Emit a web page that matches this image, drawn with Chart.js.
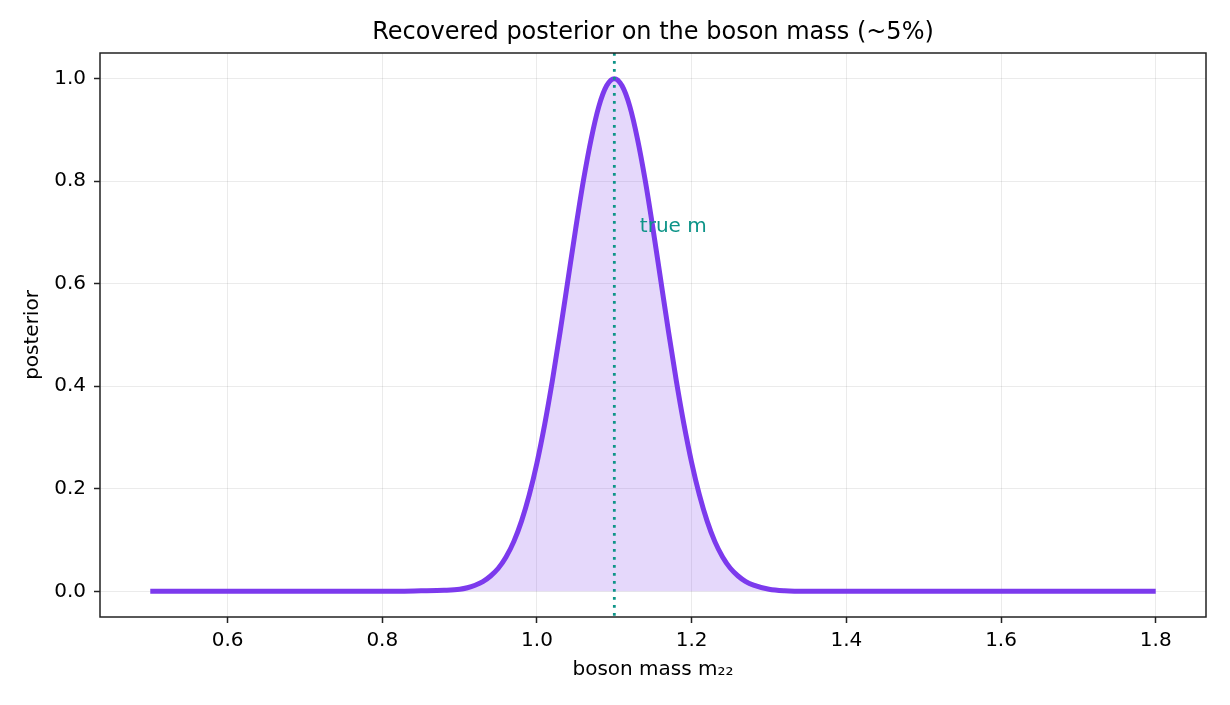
<!DOCTYPE html>
<html>
<head>
<meta charset="utf-8">
<script src="https://cdn.jsdelivr.net/npm/chart.js@4.4.1/dist/chart.umd.min.js"></script>
<style>
  html, body { margin: 0; padding: 0; background: #fff; }
  #wrap { width: 1230px; height: 705px; }
</style>
</head>
<body>
<div id="wrap"><canvas id="postChart" width="1230" height="705"></canvas></div>
<script>
// boson mass grid (m22) and posterior
const massGrid = [
  0.50, 0.60, 0.70, 0.80, 0.85, 0.88, 0.90, 0.91, 0.92, 0.93, 0.94, 0.95,
  0.96, 0.97, 0.98, 0.99, 1.00, 1.01, 1.02, 1.03, 1.04, 1.05, 1.06, 1.07,
  1.08, 1.09, 1.10, 1.11, 1.12, 1.13, 1.14, 1.15, 1.16, 1.17, 1.18, 1.19,
  1.20, 1.21, 1.22, 1.23, 1.24, 1.25, 1.26, 1.27, 1.28, 1.30, 1.32, 1.35,
  1.40, 1.50, 1.60, 1.70, 1.80
];
const posterior = [
  0.000, 0.000, 0.000, 0.000, 0.001, 0.002, 0.004, 0.007, 0.012, 0.019, 0.030, 0.045,
  0.067, 0.097, 0.137, 0.188, 0.251, 0.326, 0.412, 0.507, 0.607, 0.707, 0.801, 0.882,
  0.946, 0.986, 1.000, 0.986, 0.946, 0.882, 0.801, 0.707, 0.607, 0.507, 0.412, 0.326,
  0.251, 0.188, 0.137, 0.097, 0.067, 0.045, 0.030, 0.019, 0.012, 0.004, 0.001, 0.000,
  0.000, 0.000, 0.000, 0.000, 0.000
];
const trueMass = 1.10;
const trueLabel = "true m";
const chartTitle = "Recovered posterior on the boson mass (~5%)";
const xTicks = [0.6, 0.8, 1.0, 1.2, 1.4, 1.6, 1.8];
const yTicks = [0.0, 0.2, 0.4, 0.6, 0.8, 1.0];

const FONT = "'DejaVu Sans', sans-serif";
const PURPLE = "#7c3aed";
const TEAL = "#0d9488";

const framePlugin = {
  id: "frame",
  afterDatasetsDraw(chart) {
    const { ctx, chartArea: a, scales } = chart;
    // true-mass marker
    const xp = scales.x.getPixelForValue(trueMass);
    ctx.save();
    ctx.strokeStyle = TEAL;
    ctx.lineWidth = 2.8;
    ctx.setLineDash([2.8, 5.2]);
    ctx.beginPath();
    ctx.moveTo(xp, a.top);
    ctx.lineTo(xp, a.bottom);
    ctx.stroke();
    ctx.setLineDash([]);
    ctx.fillStyle = TEAL;
    ctx.font = "20px " + FONT;
    ctx.textAlign = "left";
    ctx.textBaseline = "alphabetic";
    ctx.fillText(trueLabel, scales.x.getPixelForValue(trueMass * 1.03), scales.y.getPixelForValue(0.7));
    // axes frame
    ctx.strokeStyle = "#222";
    ctx.lineWidth = 1.5;
    ctx.strokeRect(a.left, a.top, a.right - a.left, a.bottom - a.top);
    // title centred over the axes
    ctx.fillStyle = "#000";
    ctx.font = "24px " + FONT;
    ctx.textAlign = "center";
    ctx.textBaseline = "middle";
    ctx.fillText(chartTitle, (a.left + a.right) / 2, a.top - 20);
    ctx.restore();
  }
};

new Chart(document.getElementById("postChart"), {
  type: "line",
  data: {
    datasets: [{
      data: massGrid.map((m, i) => ({ x: m, y: posterior[i] })),
      borderColor: PURPLE,
      borderWidth: 5,
      backgroundColor: "rgba(124,58,237,0.2)",
      fill: "origin",
      pointRadius: 0,
      cubicInterpolationMode: "monotone",
      borderCapStyle: "butt"
    }]
  },
  options: {
    responsive: false,
    animation: false,
    layout: { padding: { left: 0, right: 24, top: 53, bottom: 0 } },
    plugins: {
      legend: { display: false },
      tooltip: { enabled: false },
      title: { display: false }
    },
    scales: {
      x: {
        type: "linear",
        min: 0.435,
        max: 1.865,
        afterBuildTicks(s) { s.ticks = xTicks.map(v => ({ value: v })); },
        afterFit(s) { s.height = 88; },
        ticks: {
          color: "#000",
          font: { family: FONT, size: 20 },
          padding: 6,
          callback: v => v.toFixed(1)
        },
        grid: { color: "rgba(0,0,0,0.08)", tickColor: "#222", tickLength: 6, tickWidth: 1.5 },
        border: { display: false },
        title: {
          display: true,
          text: "boson mass m₂₂",
          color: "#000",
          font: { family: FONT, size: 20 },
          padding: { top: 0, bottom: 23 }
        }
      },
      y: {
        type: "linear",
        min: -0.05,
        max: 1.05,
        afterBuildTicks(s) { s.ticks = yTicks.map(v => ({ value: v })); },
        afterFit(s) { s.width = 100; },
        ticks: {
          color: "#000",
          font: { family: FONT, size: 20 },
          padding: 8,
          callback: v => v.toFixed(1)
        },
        grid: { color: "rgba(0,0,0,0.08)", tickColor: "#222", tickLength: 6, tickWidth: 1.5 },
        border: { display: false },
        title: {
          display: true,
          text: "posterior",
          color: "#000",
          font: { family: FONT, size: 20 },
          padding: { top: 21, bottom: 0 }
        }
      }
    }
  },
  plugins: [framePlugin]
});
</script>
</body>
</html>
